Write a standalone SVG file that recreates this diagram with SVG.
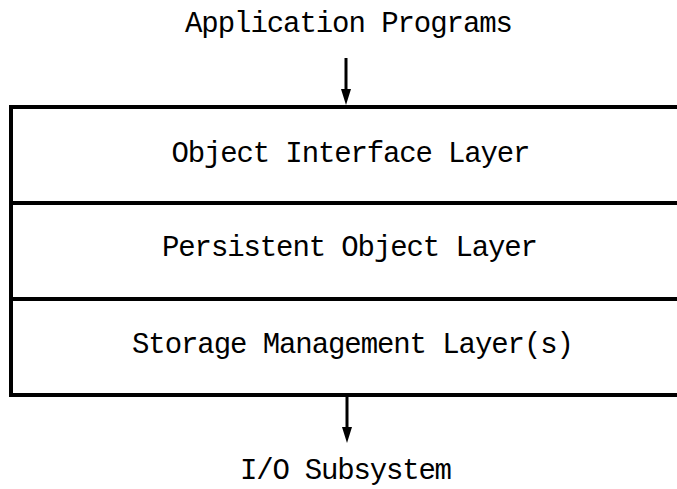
<svg xmlns="http://www.w3.org/2000/svg" width="677" height="489" viewBox="0 0 677 489">
  <style>
    .lbl { font-family: "Liberation Mono", "DejaVu Sans Mono", monospace; font-size: 29px; fill: #000; text-anchor: middle; }
    .rule { stroke: #000; stroke-width: 4; fill: none; }
    .conn { stroke: #000; stroke-width: 3; fill: none; }
    .head { fill: #000; }
  </style>
  <rect width="677" height="489" fill="#fff"/>

  <g id="application-programs">
    <text class="lbl" x="349" y="32" textLength="328" lengthAdjust="spacing">Application Programs</text>
  </g>

  <!-- layer stack: open on the right, rules run to the edge -->
  <g id="layer-stack">
    <path class="rule" d="M11,107 H677 M11,203 H677 M11,299 H677 M11,395 H677 M11,105 V397"/>
  </g>

  <g id="object-interface-layer">
    <text class="lbl" x="351" y="162" textLength="359" lengthAdjust="spacing">Object Interface Layer</text>
  </g>
  <g id="persistent-object-layer">
    <text class="lbl" x="350" y="256" textLength="376" lengthAdjust="spacing">Persistent Object Layer</text>
  </g>
  <g id="storage-management-layer">
    <text class="lbl" x="353" y="353" textLength="442" lengthAdjust="spacing">Storage Management Layer(s)</text>
  </g>

  <g id="io-subsystem">
    <text class="lbl" x="346" y="479" textLength="212" lengthAdjust="spacing">I/O Subsystem</text>
  </g>

  <g id="connectors">
    <line class="conn" x1="346" y1="58" x2="346" y2="92"/>
    <path class="head" d="M341,89 L351,89 L346,105 Z"/>
    <line class="conn" x1="347" y1="397" x2="347" y2="430"/>
    <path class="head" d="M342,427 L352,427 L347,443 Z"/>
  </g>
</svg>
